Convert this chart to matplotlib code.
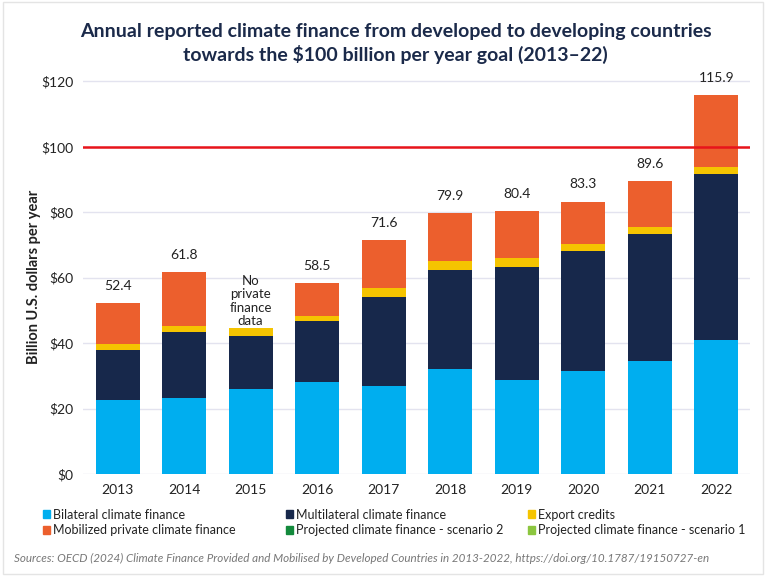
import matplotlib
matplotlib.use("Agg")
import matplotlib.pyplot as plt
from matplotlib.patches import Patch, Rectangle

plt.rcParams['font.family'] = ['Lato', 'DejaVu Sans']

years = ['2013', '2014', '2015', '2016', '2017', '2018', '2019', '2020', '2021', '2022']
bilateral = [22.5, 23.1, 25.9, 28.0, 27.0, 32.0, 28.7, 31.4, 34.6, 41.0]
multilateral = [15.5, 20.4, 16.2, 18.9, 27.1, 30.5, 34.7, 36.9, 38.7, 50.6]
export_credits = [1.6, 1.6, 2.5, 1.5, 2.9, 2.7, 2.6, 1.9, 2.1, 2.4]
private = [12.8, 16.7, 0.0, 10.1, 14.5, 14.7, 14.4, 13.1, 14.2, 21.9]
totals = ['52.4', '61.8', None, '58.5', '71.6', '79.9', '80.4', '83.3', '89.6', '115.9']
goal = 100

c_bil = '#00aeef'
c_mul = '#17284b'
c_exp = '#f5c400'
c_pri = '#ec5f2d'
c_sc2 = '#138a3c'
c_sc1 = '#8cc63f'
navy = '#1b2a4a'

fig = plt.figure(figsize=(7.68, 5.76), dpi=100)
ax = fig.add_axes([0.108, 0.177, 0.869, 0.71])

x = range(len(years))
w = 0.66
b1 = bilateral
b2 = [a + b for a, b in zip(b1, multilateral)]
b3 = [a + b for a, b in zip(b2, export_credits)]
ax.bar(x, bilateral, w, color=c_bil, zorder=3)
ax.bar(x, multilateral, w, bottom=b1, color=c_mul, zorder=3)
ax.bar(x, export_credits, w, bottom=b2, color=c_exp, zorder=3)
ax.bar(x, private, w, bottom=b3, color=c_pri, zorder=3)

tops = [a + b for a, b in zip(b3, private)]
for i, t in enumerate(totals):
    if t is None:
        ax.annotate('No\nprivate\nfinance\ndata', (i, tops[i]), xytext=(0, 1),
                    textcoords='offset points', ha='center', va='bottom',
                    fontsize=9.5, color='#222222', linespacing=1.12)
    else:
        ax.annotate(t, (i, tops[i]), xytext=(0, 8), textcoords='offset points',
                    ha='center', va='bottom', fontsize=10, color='#222222')

ax.axhline(goal, color='#e8141b', lw=1.8, zorder=4)

ax.set_xlim(-0.52, 9.51)
ax.set_ylim(0, 125)
ax.set_yticks([0, 20, 40, 60, 80, 100, 120])
ax.set_yticklabels(['$' + str(v) for v in [0, 20, 40, 60, 80, 100, 120]])
ax.set_xticks(list(x))
ax.set_xticklabels(years)
ax.tick_params(length=0, labelsize=10, labelcolor='#222222')
ax.tick_params(axis='y', pad=7)
ax.tick_params(axis='x', pad=7)
ax.grid(axis='y', color='#e3e3ef', lw=1, zorder=0)
for s in ax.spines.values():
    s.set_visible(False)
ax.set_ylabel('Billion U.S. dollars per year', fontsize=10.5, fontweight='bold',
              color='#222222')
ax.yaxis.set_label_coords(-0.063, 0.481)

fig.text(0.515, 0.945, 'Annual reported climate finance from developed to developing countries',
         ha='center', va='center', fontsize=14, fontweight='bold', color=navy)
fig.text(0.515, 0.906, 'towards the $100 billion per year goal (2013\u201322)',
         ha='center', va='center', fontsize=14, fontweight='bold', color=navy)

# legend: three columns, filled row by row
legend_cols = [
    ([c_bil, c_pri], ['Bilateral climate finance', 'Mobilized private climate finance'], 0.056),
    ([c_mul, c_sc2], ['Multilateral climate finance', 'Projected climate finance - scenario 2'], 0.372),
    ([c_exp, c_sc1], ['Export credits', 'Projected climate finance - scenario 1'], 0.6875),
]
for cols, labs, xpos in legend_cols:
    leg = fig.legend([Patch(color=c) for c in cols], labs, loc='center left',
                     bbox_to_anchor=(xpos, 0.093), frameon=False, fontsize=9,
                     handlelength=0.55, handleheight=0.55, handletextpad=0.25,
                     labelspacing=0.3, borderpad=0, borderaxespad=0,
                     labelcolor='#222222')

fig.text(0.018, 0.031, 'Sources: OECD (2024) Climate Finance Provided and Mobilised by Developed '
         'Countries in 2013-2022, https://doi.org/10.1787/19150727-en',
         ha='left', va='center', fontsize=8.4, style='italic', color='#777777')

fig.patches.append(Rectangle((0.004, 0.004), 0.99, 0.992, transform=fig.transFigure,
                             fill=False, ec='#e4e4e4', lw=1))

fig.savefig('out.png', dpi=100)
